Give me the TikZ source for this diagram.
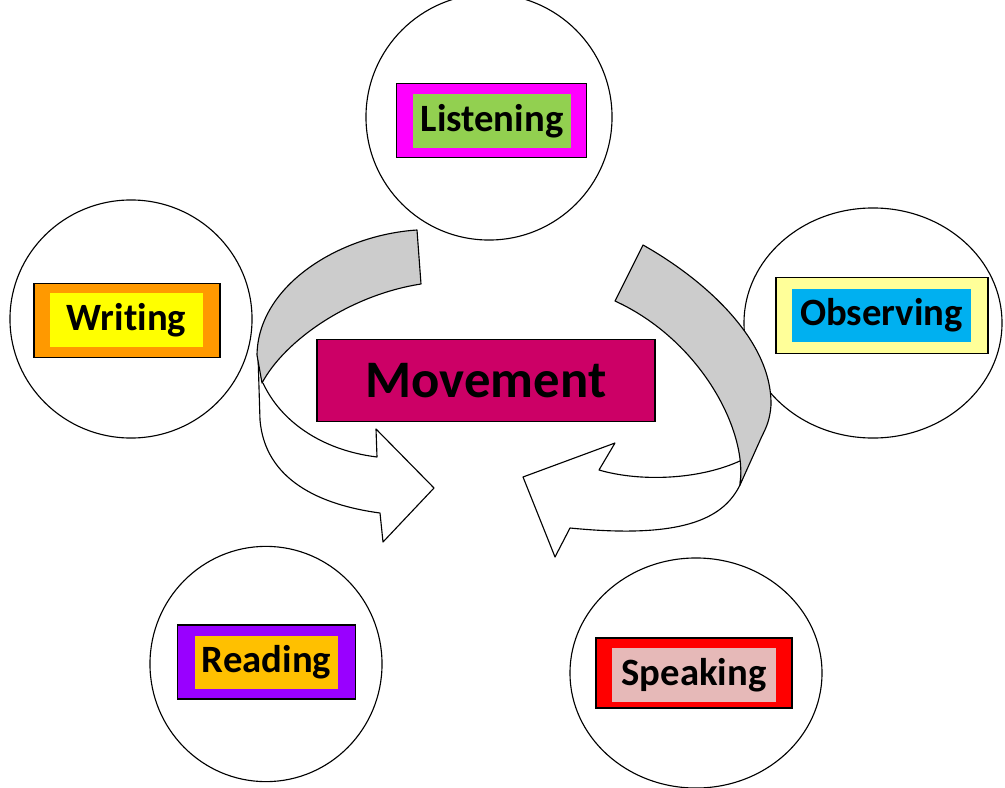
\documentclass[tikz,border=0pt]{standalone}
\usepackage{fontspec}
\setmainfont{Carlito}[Ligatures=NoCommon]
\usetikzlibrary{shapes.geometric}
\definecolor{listen_out}{HTML}{FF00FF}
\definecolor{listen_in}{HTML}{92D050}
\definecolor{write_out}{HTML}{FF9900}
\definecolor{write_in}{HTML}{FFFF00}
\definecolor{observe_out}{HTML}{FFFF99}
\definecolor{observe_in}{HTML}{00B0F0}
\definecolor{read_out}{HTML}{9900FF}
\definecolor{read_in}{HTML}{FFC000}
\definecolor{speak_out}{HTML}{FF0000}
\definecolor{speak_in}{HTML}{E6B9B8}
\definecolor{move_fill}{HTML}{CC0066}
\definecolor{ribbon_back}{HTML}{CCCCCC}
\begin{document}
\begin{tikzpicture}[x=0.025cm,y=-0.025cm]
	\tikzstyle{ring}=[ellipse,draw,line width=0.8pt,inner sep=0pt]
	\tikzstyle{frame_box}=[draw,line width=0.8pt,inner sep=0pt]
	\tikzstyle{label_box}=[inner sep=0pt,font=\fontsize{27.5}{33}\selectfont\bfseries]
	\tikzstyle{ribbon}=[draw,line width=0.8pt,line join=round]
	\useasboundingbox (0,0) rectangle (1005,788);
	% cercles
	\node[ring,minimum width=6.15cm,minimum height=6.15cm] (c_listening) at (489,117) {};
	\node[ring,minimum width=6.05cm,minimum height=5.95cm] (c_writing) at (131,319) {};
	\node[ring,minimum width=6.45cm,minimum height=5.75cm] (c_observing) at (873,323) {};
	\node[ring,minimum width=5.8cm,minimum height=5.88cm] (c_reading) at (266,664) {};
	\node[ring,minimum width=6.3cm,minimum height=5.75cm] (c_speaking) at (696,673) {};
	% fleche gauche
	\fill[white] (263,383) .. controls (320,450) and (340,454) .. (377,457) -- (376,429) -- (434,488) -- (383,542) -- (380,513)
		.. controls (320,505) and (265,480) .. (260,420) -- (258,355) -- cycle;
	\draw[ribbon] (263,383) .. controls (280,420) and (320,450) .. (377,457) -- (376,429) -- (434,488) -- (383,542) -- (380,513)
		.. controls (320,505) and (265,480) .. (260,420) -- (258,355);
	\draw[ribbon,fill=ribbon_back] (417,230) .. controls (340,235) and (258,285) .. (257,355) -- (262,383)
		.. controls (285,340) and (350,295) .. (421,284) -- cycle;
	% fleche droite
	\draw[ribbon,fill=white] (742,460) -- (740,485) .. controls (725,515) and (690,540) .. (570,528) -- (555,557) -- (523,477) -- (615,443) -- (599,470)
		.. controls (640,482) and (700,480) .. cycle;
	\draw[ribbon,fill=ribbon_back] (643,245) .. controls (705,280) and (772,340) .. (771,405)
		.. controls (770,420) and (766,428) .. (762,436) -- (740,485)
		.. controls (748,430) and (700,340) .. (615,301) -- cycle;
	% centre
	\node[frame_box,fill=move_fill,minimum width=8.45cm,minimum height=2.03cm,font=\fontsize{37.5}{44}\selectfont\bfseries] (movement) at (486,380.5) {Movement};
	% cadres
	\node[frame_box,fill=listen_out,minimum width=4.73cm,minimum height=1.83cm] (f_listening) at (491.5,120.5) {};
	\node[label_box,fill=listen_in,minimum width=3.95cm,minimum height=1.35cm] (listening) at (492,121) {Listening};
	\node[frame_box,fill=write_out,minimum width=4.65cm,minimum height=1.83cm] (f_writing) at (127,320.5) {};
	\node[label_box,fill=write_in,minimum width=3.83cm,minimum height=1.35cm] (writing) at (126.5,320) {Writing};
	\node[frame_box,fill=observe_out,minimum width=5.3cm,minimum height=1.88cm] (f_observing) at (882,315.5) {};
	\node[label_box,fill=observe_in,minimum width=4.48cm,minimum height=1.33cm] (observing) at (881.5,315.5) {Observing\hspace{0.25cm}};
	\node[frame_box,fill=read_out,minimum width=4.43cm,minimum height=1.85cm] (f_reading) at (266.5,662) {};
	\node[label_box,fill=read_in,minimum width=3.58cm,minimum height=1.33cm] (reading) at (266.5,662.5) {Reading};
	\node[frame_box,fill=speak_out,minimum width=4.9cm,minimum height=1.75cm] (f_speaking) at (694,673) {};
	\node[label_box,fill=speak_in,minimum width=4.1cm,minimum height=1.35cm] (speaking) at (694,675) {Speaking};
\end{tikzpicture}
\end{document}
